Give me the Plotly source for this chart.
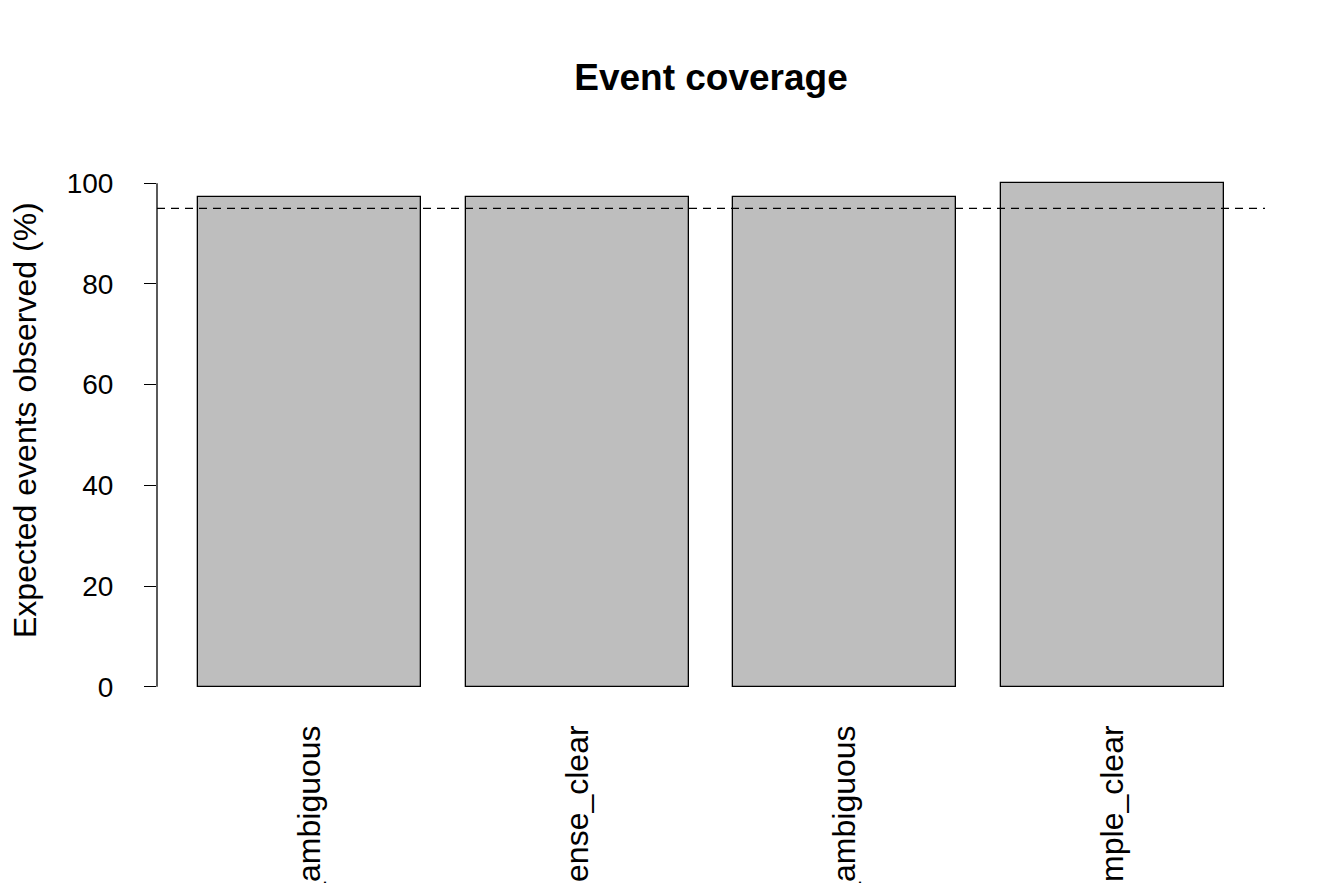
import plotly.graph_objects as go

categories = ["dense_ambiguous", "dense_clear", "simple_ambiguous", "simple_clear"]
coverage = [97.3, 97.3, 97.3, 100.0]
threshold = 95
y_ticks = [0, 20, 40, 60, 80, 100]

centers = [0.7 + 1.2 * i for i in range(len(categories))]
FONT = "Liberation Sans, Arial, sans-serif"

L, R, T, B = 149, 87, 155, 184
W, H = 1344, 883
PW, PH = W - L - R, H - T - B

fig = go.Figure()
fig.add_trace(go.Bar(
    x=centers, y=coverage, width=1.0,
    marker=dict(color="#BEBEBE", line=dict(color="black", width=1.3)),
    showlegend=False, hoverinfo="x+y",
))

fig.add_shape(type="line", xref="paper", yref="y", x0=0, x1=1, y0=threshold, y1=threshold,
              line=dict(color="black", width=1.3, dash="8px,6px"))
fig.add_shape(type="line", xref="paper", yref="y", x0=0, x1=0, y0=min(y_ticks), y1=max(y_ticks),
              line=dict(color="black", width=1.3))

fig.add_annotation(text="Expected events observed (%)", xref="paper", yref="paper",
                   x=(17 - L) / PW, y=1 - (412 - T) / PH, xanchor="center", yanchor="middle",
                   textangle=-90, showarrow=False, font=dict(size=32, family=FONT))

fig.update_layout(
    width=W, height=H,
    margin=dict(l=L, r=R, t=T, b=B, autoexpand=False),
    paper_bgcolor="white", plot_bgcolor="white",
    font=dict(family=FONT, size=28, color="black"),
    title=dict(text="<b>Event coverage</b>", x=703 / W, xanchor="center", xref="container",
               y=1 - 69 / H, yanchor="middle", font=dict(size=37, family=FONT)),
    bargap=0,
)
fig.update_xaxes(
    range=[0.016, 4.984], tickvals=centers, ticktext=categories, tickangle=-90,
    showgrid=False, zeroline=False, showline=False, ticks="", automargin=False,
    ticklabelstandoff=11, tickfont=dict(size=32),
)
fig.update_yaxes(
    range=[-4, 104], tickvals=y_ticks, ticktext=[str(v) for v in y_ticks],
    showgrid=False, zeroline=False, showline=False, ticks="outside", ticklen=12,
    tickwidth=1.3, tickcolor="black", automargin=False, ticklabelstandoff=25,
)
fig.write_html("out.html")
